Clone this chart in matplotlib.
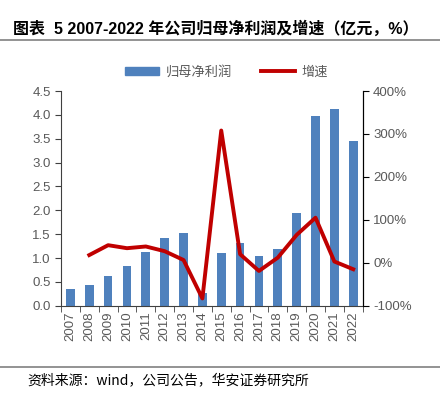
import numpy as np
import matplotlib
matplotlib.use('Agg')
import matplotlib.pyplot as plt
from matplotlib.lines import Line2D

plt.rcParams['font.family'] = ['Liberation Sans', 'Noto Sans CJK SC', 'DejaVu Sans']

years = ['2007', '2008', '2009', '2010', '2011', '2012', '2013', '2014',
         '2015', '2016', '2017', '2018', '2019', '2020', '2021', '2022']
profit = [0.36, 0.43, 0.62, 0.83, 1.13, 1.43, 1.52, 0.27,
          1.10, 1.32, 1.04, 1.18, 1.94, 3.98, 4.12, 3.45]
growth = [None, 18, 41, 34, 38, 27, 6.5, -83,
          308, 20, -19, 12, 65, 105, 3, -15]

bar_color = '#4F81BD'
line_color = '#C00000'
gray = '#595959'

fig = plt.figure(figsize=(4.4, 3.94), dpi=100)
ax = fig.add_axes([0.1386, 0.224, 0.6856, 0.545])
ax2 = ax.twinx()

x = np.arange(len(years))
ax.bar(x, profit, width=0.46, color=bar_color, zorder=2)
gx = [i for i, g in zip(x, growth) if g is not None]
gy = [g for g in growth if g is not None]
ax2.plot(gx, gy, color=line_color, linewidth=2.8, zorder=3)

ax.set_xlim(-0.5, len(years) - 0.5)
ax.set_ylim(0, 4.5)
ax.set_yticks(np.arange(0, 4.51, 0.5))
ax.set_yticklabels([f'{v:.1f}' for v in np.arange(0, 4.51, 0.5)])
ax2.set_ylim(-100, 400)
ax2.set_yticks(np.arange(-100, 401, 100))
ax2.set_yticklabels([f'{v}%' for v in range(-100, 401, 100)])

ax.set_xticks(x)
ax.set_xticklabels(years, rotation=90)
ax.set_xticks(np.arange(-0.5, len(years), 1), minor=True)
ax.tick_params(axis='x', which='major', length=0, pad=4, labelsize=9.5, labelcolor=gray)
ax.tick_params(axis='x', which='minor', length=4, color='#404040', direction='out')
ax.tick_params(axis='y', length=4, direction='out', labelsize=9.5, labelcolor=gray, color='#404040')
ax2.tick_params(axis='y', length=4, direction='out', labelsize=9.5, labelcolor=gray, color='black')

for a in (ax, ax2):
    a.spines['top'].set_visible(False)
ax.spines['left'].set_color('#404040')
ax.spines['bottom'].set_color('#404040')
ax2.spines['right'].set_color('black')
ax2.spines['left'].set_visible(False)
ax2.spines['bottom'].set_visible(False)

handles = [plt.Rectangle((0, 0), 1, 1, color=bar_color),
           Line2D([0], [0], color=line_color, linewidth=2.8)]
fig.legend(handles, ['归母净利润', '增速'], loc='center', bbox_to_anchor=(0.515, 0.817),
           ncol=2, frameon=False, labelcolor=gray,
           handlelength=2.6, handleheight=0.5, columnspacing=2.2, handletextpad=0.5,
           prop={'family': ['Noto Sans CJK SC'], 'size': 9.5})

fig.text(0.03, 0.928, '图表  5 2007-2022 年公司归母净利润及增速（亿元，%）',
         fontsize=11.5, fontweight='bold', va='center', ha='left',
         family=['Liberation Sans', 'Noto Sans CJK SC'])
fig.add_artist(Line2D([0, 1], [0.898, 0.898], color='#808080', linewidth=1.2))
fig.add_artist(Line2D([0, 1], [0.069, 0.069], color='#808080', linewidth=1.2))
fig.text(0.062, 0.035, '资料来源：wind，公司公告，华安证券研究所',
         fontsize=10, va='center', ha='left',
         family=['Noto Sans CJK SC', 'Liberation Sans'])

fig.savefig('out.png', dpi=100)
